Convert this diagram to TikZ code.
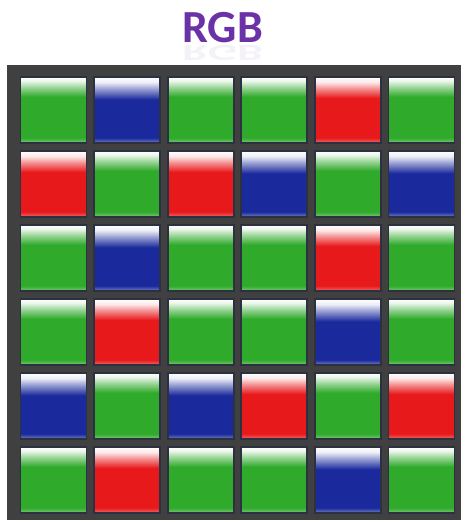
\documentclass[tikz,border=0pt]{standalone}
\usepackage{fontspec}
\setmainfont{Carlito}
\definecolor{frame}{HTML}{404040}
\definecolor{rim}{HTML}{2B3140}
\definecolor{violet}{HTML}{6A32A6}
\definecolor{gcell}{HTML}{30AA2B}
\definecolor{rcell}{HTML}{E8191B}
\definecolor{bcell}{HTML}{1A2A9C}
\colorlet{gtop}{gcell!10!white}
\colorlet{gmid}{gcell!50!white}
\colorlet{gbot}{gcell!65!white}
\colorlet{rtop}{rcell!10!white}
\colorlet{rmid}{rcell!50!white}
\colorlet{rbot}{rcell!65!white}
\colorlet{btop}{bcell!8!white}
\colorlet{bmid}{bcell!45!white}
\colorlet{bbot}{bcell!60!white}
% one glossy cell shading per colour (visible band runs 25bp..75bp)
\pgfdeclareverticalshading{shadeG}{100bp}{color(0bp)=(gbot); color(25bp)=(gbot); color(29bp)=(gcell); color(60bp)=(gcell); color(67bp)=(gmid); color(72bp)=(gtop); color(75bp)=(white); color(100bp)=(white)}
\pgfdeclareverticalshading{shadeR}{100bp}{color(0bp)=(rbot); color(25bp)=(rbot); color(29bp)=(rcell); color(59bp)=(rcell); color(66bp)=(rmid); color(71bp)=(rtop); color(75bp)=(white); color(100bp)=(white)}
\pgfdeclareverticalshading{shadeB}{100bp}{color(0bp)=(bbot); color(25bp)=(bbot); color(29bp)=(bcell); color(58bp)=(bcell); color(66bp)=(bmid); color(71bp)=(btop); color(75bp)=(white); color(100bp)=(white)}
\newcommand{\CellX}{53.5}
\newcommand{\CellY}{110}
\newcommand{\PitchX}{73.6}
\newcommand{\PitchY}{74}

\begin{document}
\begin{tikzpicture}[x=1pt, y=1pt,
    cell/.style={draw=rim, line width=1.8pt, minimum width=66pt, minimum height=66pt, inner sep=0pt},
    heading/.style={font=\bfseries\fontsize{46}{46}\selectfont, text=violet, inner sep=0pt, anchor=base},
  ]
\useasboundingbox (0,0) rectangle (464,-522);

% --- Title ----------------------------------------------------------------------
\node[heading] (title) at (222.5,-42) {RGB};
\begin{scope}[shift={(222.5,-45)}, yscale=-0.5]
  \node[heading, transform shape, opacity=0.07] (mirror) at (0,0) {RGB};
\end{scope}

% --- Sensor frame ---------------------------------------------------------------
\fill[frame] (7,-65) rectangle (461,-520);

% --- Filter cells ---------------------------------------------------------------
\foreach \row [count=\i] in {{G,B,G,G,R,G},{R,G,R,B,G,B},{G,B,G,G,R,G},{G,R,G,G,B,G},{B,G,B,R,G,R},{G,R,G,G,B,G}}
  \foreach \c [count=\j] in \row
    \node[cell, shading=shade\c] (c-\i-\j) at ({\CellX+\PitchX*(\j-1)},{-\CellY-\PitchY*(\i-1)}) {};
\end{tikzpicture}
\end{document}
